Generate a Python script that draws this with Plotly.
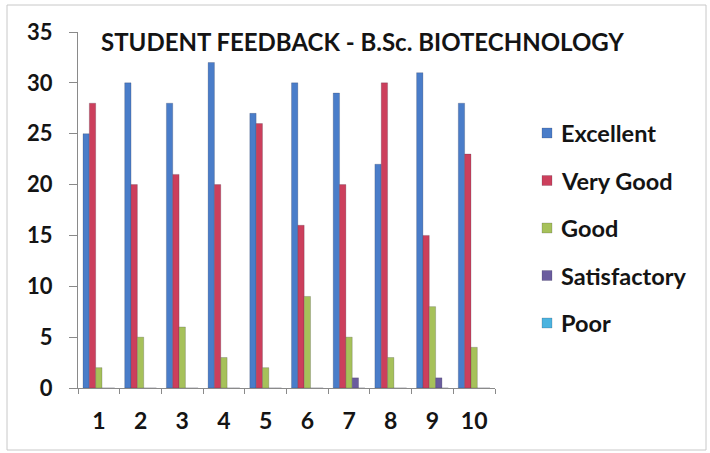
import plotly.graph_objects as go

# Feedback counts per question, one list per rating
questions = ["1", "2", "3", "4", "5", "6", "7", "8", "9", "10"]
excellent = [25, 30, 28, 32, 27, 30, 29, 22, 31, 28]
very_good = [28, 20, 21, 20, 26, 16, 20, 30, 15, 23]
good = [2, 5, 6, 3, 2, 9, 5, 3, 8, 4]
satisfactory = [0, 0, 0, 0, 0, 0, 1, 0, 1, 0]
poor = [0, 0, 0, 0, 0, 0, 0, 0, 0, 0]
y_ticks = [0, 5, 10, 15, 20, 25, 30, 35]

series = [
    ("Excellent", excellent, "#4A7DC9"),
    ("Very Good", very_good, "#CC3F5C"),
    ("Good", good, "#A6C15A"),
    ("Satisfactory", satisfactory, "#6A5C9E"),
    ("Poor", poor, "#4BB3DF"),
]

FONT = "Lato, 'Open Sans', sans-serif"
INK = "#141414"

fig = go.Figure()
for name, vals, color in series:
    fig.add_trace(go.Bar(
        x=questions, y=vals, name=name, showlegend=False,
        marker=dict(color=color, line=dict(color="rgba(40,40,60,0.35)", width=0.6)),
    ))

W, H = 710, 453
L, R, T, B = 78, 215, 32, 65
pw, ph = W - L - R, H - T - B

def px(x):
    return (x - L) / pw

def py(y):
    return (H - B - y) / ph

# Key on the right: a colour square and a bold label per rating
shapes = [dict(
    type="rect", xref="paper", yref="paper",
    x0=px(7), x1=px(706), y0=py(450), y1=py(5),
    line=dict(color="#c8c8c8", width=1), layer="below",
)]
annotations = [dict(
    text="<b>STUDENT FEEDBACK - B.Sc. BIOTECHNOLOGY</b>",
    xref="paper", yref="paper", x=px(362), y=py(42),
    xanchor="center", yanchor="middle", showarrow=False,
    font=dict(size=24, color=INK, family=FONT),
)]
key_top, key_step = 133, 47.5
for i, (name, _, color) in enumerate(series):
    cy = key_top + i * key_step
    shapes.append(dict(
        type="rect", xref="paper", yref="paper",
        x0=px(542), x1=px(552), y0=py(cy + 5), y1=py(cy - 5),
        fillcolor=color, line=dict(color="rgba(40,40,60,0.3)", width=0.6),
    ))
    annotations.append(dict(
        text="<b>" + name + "</b>", xref="paper", yref="paper",
        x=px(559), y=py(cy), xanchor="left", yanchor="middle", showarrow=False,
        font=dict(size=23.5, color=INK, family=FONT),
    ))

fig.update_layout(
    width=W, height=H,
    margin=dict(l=L, r=R, t=T, b=B),
    paper_bgcolor="white", plot_bgcolor="white",
    barmode="group", bargap=0.24, bargroupgap=0,
    font=dict(family=FONT, color=INK),
    showlegend=False,
    xaxis=dict(
        type="category", showline=True, linecolor="#8a8a8a", linewidth=1,
        ticks="outside", tickson="boundaries", ticklen=5, tickcolor="#8a8a8a",
        tickfont=dict(size=23, color=INK, family=FONT, weight="bold"),
        showgrid=False, zeroline=False, ticklabelstandoff=12,
    ),
    yaxis=dict(
        range=[0, 35], tickvals=y_ticks, showline=True, linecolor="#8a8a8a",
        linewidth=1, ticks="outside", ticklen=8, tickcolor="#8a8a8a",
        tickfont=dict(size=22, color=INK, family=FONT, weight="bold"),
        showgrid=False, zeroline=False, ticklabelstandoff=12,
    ),
    annotations=annotations,
    shapes=shapes,
)

fig.write_html("out.html")
